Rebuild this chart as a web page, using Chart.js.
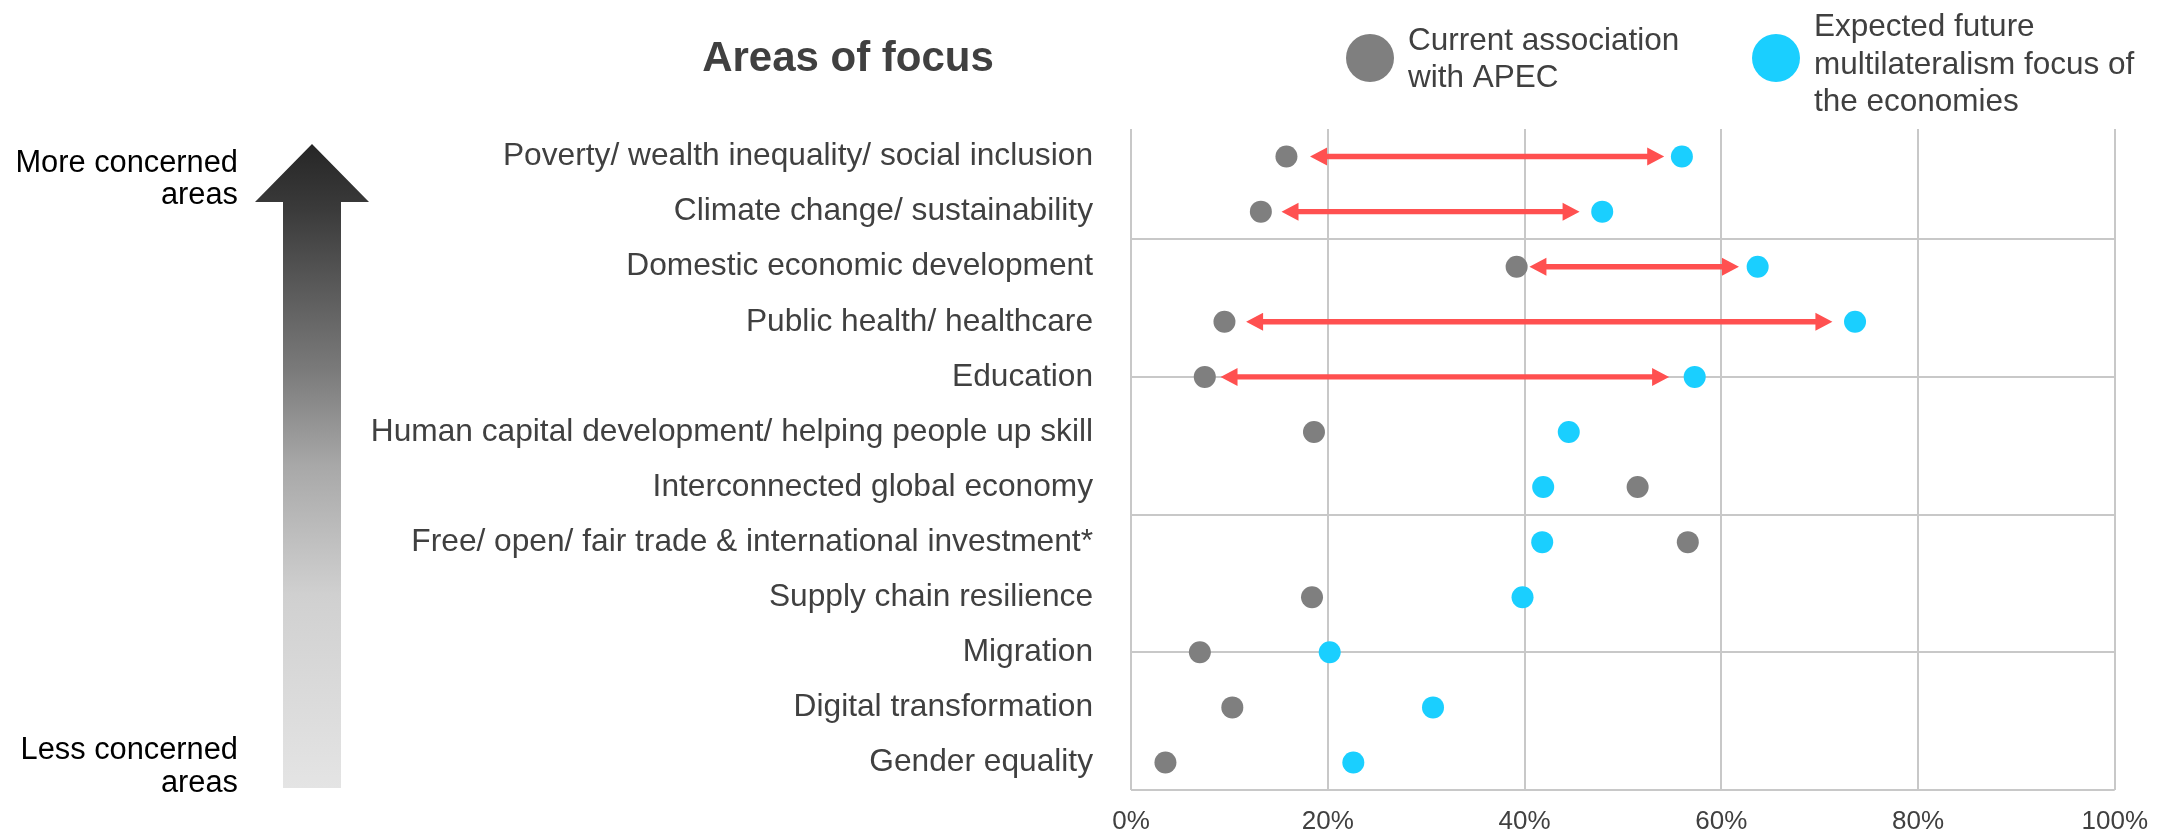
<!DOCTYPE html>
<html><head><meta charset="utf-8">
<script src="https://cdn.jsdelivr.net/npm/chart.js@4"></script>
<style>html,body{margin:0;padding:0;background:#fff;}canvas{display:block;}</style>
</head><body>
<canvas id="c" width="2164" height="837"></canvas>
<script>
const categories = [
  'Poverty/ wealth inequality/ social inclusion',
  'Climate change/ sustainability',
  'Domestic economic development',
  'Public health/ healthcare',
  'Education',
  'Human capital development/ helping people up skill',
  'Interconnected global economy',
  'Free/ open/ fair trade & international investment*',
  'Supply chain resilience',
  'Migration',
  'Digital transformation',
  'Gender equality'
];
const currentAssociation = [15.8, 13.2, 39.2, 9.5, 7.5, 18.6, 51.5, 56.6, 18.4, 7.0, 10.3, 3.5];
const futureFocus = [56.0, 47.9, 63.7, 73.6, 57.3, 44.5, 41.9, 41.8, 39.8, 20.2, 30.7, 22.6];
const arrowFrom = [18.2, 15.3, 40.5, 11.7, 9.1];
const arrowTo = [54.2, 45.6, 61.8, 71.3, 54.7];
const xTickValues = [0, 20, 40, 60, 80, 100];
const xTickLabels = ['0%', '20%', '40%', '60%', '80%', '100%'];
const yGridValues = [0, 2.5, 5, 7.5, 10];
const seriesNames = [['Current association', 'with APEC'], ['Expected future', 'multilateralism focus of', 'the economies']];
const chartTitle = 'Areas of focus';
const scaleTopLabel = ['More concerned', 'areas'];
const scaleBottomLabel = ['Less concerned', 'areas'];

const FONT = '"Liberation Sans", Arial, sans-serif';
const GRAY = '#7F7F7F';
const BLUE = '#1ACFFF';
const RED = '#FF5050';
const GRID = '#C8C8C8';
const TEXT = '#404040';

const rowY = i => categories.length - 0.5 - i;

const yTickValues = Array.from(new Set(categories.map((c, i) => rowY(i)).concat(yGridValues))).sort((a, b) => a - b);

const decorations = {
  id: 'decorations',
  beforeDatasetsDraw(chart) {
    const ctx = chart.ctx, xs = chart.scales.x, ys = chart.scales.y;
    ctx.save();
    ctx.fillStyle = RED;
    const hl = 17, hh = 9, st = 2.7;
    arrowFrom.forEach((v, i) => {
      const y = ys.getPixelForValue(rowY(i));
      const x1 = xs.getPixelForValue(v), x2 = xs.getPixelForValue(arrowTo[i]);
      ctx.beginPath();
      ctx.moveTo(x1, y);
      ctx.lineTo(x1 + hl, y - hh);
      ctx.lineTo(x1 + hl, y - st);
      ctx.lineTo(x2 - hl, y - st);
      ctx.lineTo(x2 - hl, y - hh);
      ctx.lineTo(x2, y);
      ctx.lineTo(x2 - hl, y + hh);
      ctx.lineTo(x2 - hl, y + st);
      ctx.lineTo(x1 + hl, y + st);
      ctx.lineTo(x1 + hl, y + hh);
      ctx.closePath();
      ctx.fill();
    });
    ctx.restore();
  },
  afterDraw(chart) {
    const ctx = chart.ctx;
    ctx.save();
    // title
    ctx.fillStyle = TEXT;
    ctx.font = 'bold 42px ' + FONT;
    ctx.textAlign = 'center';
    ctx.textBaseline = 'alphabetic';
    ctx.fillText(chartTitle, 848, 71);
    // legend
    const legendItems = [
      {color: GRAY, cx: 1370, tx: 1408, base: [50, 87]},
      {color: BLUE, cx: 1776, tx: 1814, base: [36, 74, 111]}
    ];
    ctx.textAlign = 'left';
    ctx.font = '31.5px ' + FONT;
    legendItems.forEach((it, k) => {
      ctx.fillStyle = it.color;
      ctx.beginPath();
      ctx.arc(it.cx, 58, 24, 0, Math.PI * 2);
      ctx.fill();
      ctx.fillStyle = TEXT;
      seriesNames[k].forEach((line, j) => ctx.fillText(line, it.tx, it.base[j]));
    });
    // big gradient arrow
    const g = ctx.createLinearGradient(0, 144, 0, 788);
    g.addColorStop(0, '#262626');
    g.addColorStop(0.1, '#3a3a3a');
    g.addColorStop(0.35, '#7a7a7a');
    g.addColorStop(0.5, '#a8a8a8');
    g.addColorStop(0.7, '#d0d0d0');
    g.addColorStop(1, '#e4e4e4');
    ctx.fillStyle = g;
    ctx.beginPath();
    ctx.moveTo(312, 144);
    ctx.lineTo(369, 202);
    ctx.lineTo(341, 202);
    ctx.lineTo(341, 788);
    ctx.lineTo(283, 788);
    ctx.lineTo(283, 202);
    ctx.lineTo(255, 202);
    ctx.closePath();
    ctx.fill();
    // side labels
    ctx.fillStyle = '#000000';
    ctx.font = '30.8px ' + FONT;
    ctx.textAlign = 'right';
    ctx.fillText(scaleTopLabel[0], 238, 172);
    ctx.fillText(scaleTopLabel[1], 238, 204);
    ctx.fillText(scaleBottomLabel[0], 238, 759);
    ctx.fillText(scaleBottomLabel[1], 238, 792);
    ctx.restore();
  }
};

new Chart(document.getElementById('c'), {
  type: 'scatter',
  data: {
    datasets: [
      {
        label: seriesNames[0].join(' '),
        data: currentAssociation.map((v, i) => ({x: v, y: rowY(i)})),
        backgroundColor: GRAY, borderColor: GRAY, borderWidth: 0,
        pointRadius: 11, pointHoverRadius: 11
      },
      {
        label: seriesNames[1].join(' '),
        data: futureFocus.map((v, i) => ({x: v, y: rowY(i)})),
        backgroundColor: BLUE, borderColor: BLUE, borderWidth: 0,
        pointRadius: 11, pointHoverRadius: 11
      }
    ]
  },
  options: {
    responsive: false,
    devicePixelRatio: 1,
    animation: false,
    events: [],
    layout: {padding: {top: 129, right: 41, bottom: 0, left: 0}},
    plugins: {legend: {display: false}, title: {display: false}, tooltip: {enabled: false}},
    scales: {
      x: {
        type: 'linear', min: 0, max: 100,
        afterBuildTicks: s => { s.ticks = xTickValues.map(v => ({value: v})); },
        afterFit: s => { s.height = 47; },
        ticks: {
          callback: v => xTickLabels[xTickValues.indexOf(v)],
          font: {family: FONT, size: 26}, color: TEXT, padding: 16, maxRotation: 0, autoSkip: false
        },
        grid: {color: GRID, lineWidth: 2, drawTicks: false},
        border: {display: false}
      },
      y: {
        type: 'linear', min: 0, max: 12,
        afterBuildTicks: s => { s.ticks = yTickValues.map(v => ({value: v})); },
        afterFit: s => { s.width = 1131; s.paddingTop = 0; s.paddingBottom = 0; },
        ticks: {
          callback: v => { const i = categories.findIndex((c, k) => rowY(k) === v); return i >= 0 ? categories[i] : ''; },
          font: {family: FONT, size: 31.7}, color: TEXT, padding: 38, autoSkip: false
        },
        grid: {
          color: c => (c.tick && yGridValues.includes(c.tick.value)) ? GRID : 'rgba(0,0,0,0)',
          lineWidth: 2, drawTicks: false
        },
        border: {display: false}
      }
    }
  },
  plugins: [decorations]
});
</script>
</body></html>
